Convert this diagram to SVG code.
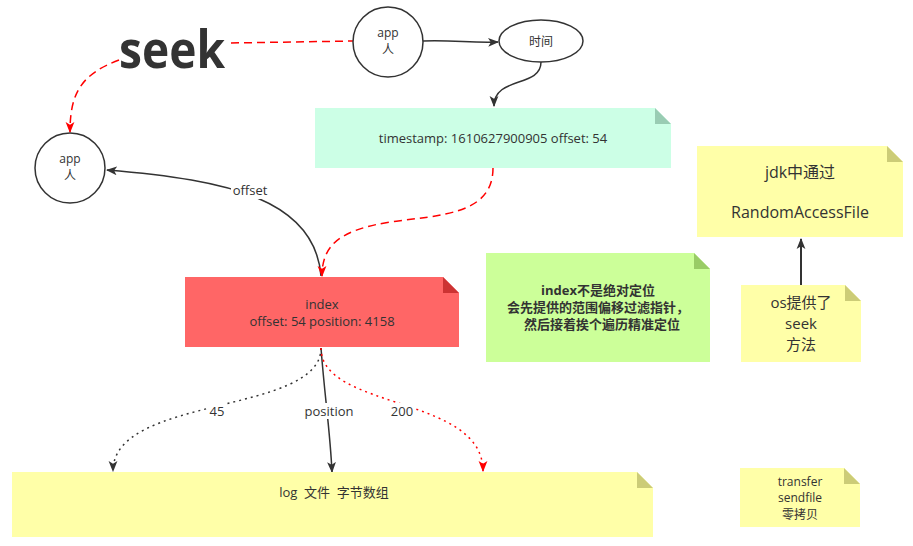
<svg xmlns="http://www.w3.org/2000/svg" width="913" height="546" viewBox="0 0 913 546">
<defs>
<marker id="ab" viewBox="0 0 10 10" refX="9" refY="5" markerWidth="11" markerHeight="11" orient="auto" markerUnits="userSpaceOnUse"><path d="M0,1 L10,5 L0,9 L2.5,5 Z" fill="#333"/></marker>
<marker id="ar" viewBox="0 0 10 10" refX="9" refY="5" markerWidth="11" markerHeight="11" orient="auto" markerUnits="userSpaceOnUse"><path d="M0,1 L10,5 L0,9 L2.5,5 Z" fill="#f00"/></marker>
<style>
text{font-family:"Open Sans","Noto Sans","Noto Sans CJK SC",sans-serif;fill:#333;text-anchor:middle}
.n{stroke:#333;stroke-width:1.5;fill:#fff}
.c{fill:none;stroke-width:1.5}
.k{stroke:#333}
.r{stroke:#f00}
.dash{stroke-dasharray:8 5}
.dot{stroke-dasharray:2 4}
.lbl{font-size:13px}
</style>
</defs>
<rect width="913" height="546" fill="#fff"/>
<g id="connectors">
<path class="c r dash" d="M231 43 L353 41"/>
<path class="c r dash" d="M119 60 C82 74 70 92 70 132" marker-end="url(#ar)"/>
<path class="c k" d="M423 41 C455 40 470 43 498 42" marker-end="url(#ab)"/>
<path class="c k" d="M541 62 C541 88 494 76 494 106" marker-end="url(#ab)"/>
<path class="c k" d="M321 276 C315 200 230 180 107 170" marker-end="url(#ab)"/>
<rect x="231" y="182" width="38" height="17" fill="#fff"/>
<text class="lbl" x="250" y="195">offset</text>
<path class="c r dash" d="M493 168 C493 215 440 215 390 222 C340 230 322 245 322 276" marker-end="url(#ar)"/>
<path class="c k dot" d="M321 348 C321 415 113 395 113 471" marker-end="url(#ab)"/>
<path class="c k" d="M321 348 C325 400 330 430 332 472" marker-end="url(#ab)"/>
<path class="c r dot" d="M321 348 C321 410 483 395 483 471" marker-end="url(#ar)"/>
<rect x="207" y="403" width="20" height="16" fill="#fff"/>
<text class="lbl" x="217" y="416">45</text>
<rect x="303" y="403" width="52" height="16" fill="#fff"/>
<text class="lbl" x="329" y="416">position</text>
<rect x="390" y="403" width="25" height="16" fill="#fff"/>
<text class="lbl" x="402" y="416">200</text>
<path class="c k" d="M801 285 L801 239" marker-end="url(#ab)" style="stroke-width:2"/>
</g>
<g id="seek"><text x="172" y="68" style="font-family:'Open Sans',sans-serif;font-weight:bold;font-size:52px" textLength="106" lengthAdjust="spacingAndGlyphs">seek</text></g>
<g id="app1"><circle class="n" cx="388" cy="42" r="35"/><text x="388" y="37" font-size="12">app</text><text x="388" y="54" font-size="12">人</text></g>
<g id="time"><ellipse class="n" cx="541" cy="41" rx="42" ry="21"/><text x="541" y="46" font-size="12">时间</text></g>
<g id="app2"><circle class="n" cx="70" cy="168" r="35"/><text x="70" y="163" font-size="12">app</text><text x="70" y="180" font-size="12">人</text></g>
<g id="ts"><path d="M315 108 H655 L671 124 V168 H315 Z" fill="#ccffe6"/><path d="M655 108 L671 124 H655 Z" fill="#99ccb3"/><text x="493" y="143" font-size="13">timestamp: 1610627900905 offset: 54</text></g>
<g id="index"><path d="M185 277 H443 L459 293 V347 H185 Z" fill="#ff6666"/><path d="M443 277 L459 293 H443 Z" fill="#cc3333"/><text x="322" y="309" font-size="13">index</text><text x="322" y="326" font-size="13">offset: 54 position: 4158</text></g>
<g id="note"><path d="M486 253 H694 L710 269 V362 H486 Z" fill="#ccff99"/><path d="M694 253 L710 269 H694 Z" fill="#99cc66"/><text x="598" y="295" font-size="13" font-weight="bold">index不是绝对定位</text><text x="598" y="312" font-size="13" font-weight="bold">会先提供的范围偏移过滤指针，</text><text x="602" y="329" font-size="13" font-weight="bold">然后接着挨个遍历精准定位</text></g>
<g id="jdk"><path d="M697 146 H887 L903 162 V237 H697 Z" fill="#ffffa8"/><path d="M887 146 L903 162 H887 Z" fill="#cccc77"/><text x="800" y="178" font-size="16">jdk中通过</text><text x="800" y="218" font-size="16">RandomAccessFile</text></g>
<g id="os"><path d="M741 285 H845 L861 301 V362 H741 Z" fill="#ffffa8"/><path d="M845 285 L861 301 H845 Z" fill="#cccc77"/><text x="801" y="308" font-size="15">os提供了</text><text x="801" y="329" font-size="15">seek</text><text x="801" y="350" font-size="15">方法</text></g>
<g id="log"><path d="M12 472 H637 L653 488 V537 H12 Z" fill="#ffffa8"/><path d="M637 472 L653 488 H637 Z" fill="#cccc77"/><text x="334" y="497" font-size="13" style="white-space:pre" xml:space="preserve">log  文件  字节数组</text></g>
<g id="transfer"><path d="M740 468 H844 L860 484 V527 H740 Z" fill="#ffffa8"/><path d="M844 468 L860 484 H844 Z" fill="#cccc77"/><text x="800" y="486" font-size="12">transfer</text><text x="800" y="502" font-size="12">sendfile</text><text x="800" y="519" font-size="12">零拷贝</text></g>
</svg>
